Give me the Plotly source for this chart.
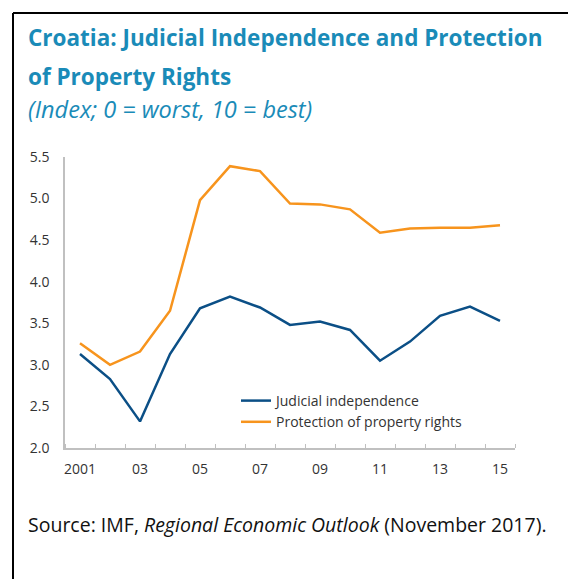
import plotly.graph_objects as go

years = list(range(2001, 2016))
judicial = [3.13, 2.83, 2.32, 3.13, 3.68, 3.82, 3.69, 3.48, 3.52, 3.42, 3.05, 3.28, 3.59, 3.70, 3.53]
property_rights = [3.26, 3.00, 3.16, 3.65, 4.98, 5.39, 5.33, 4.94, 4.93, 4.87, 4.59, 4.64, 4.65, 4.65, 4.68]
tick_years = [2001, 2003, 2005, 2007, 2009, 2011, 2013, 2015]
tick_labels = ["2001", "03", "05", "07", "09", "11", "13", "15"]
y_ticks = [2.0, 2.5, 3.0, 3.5, 4.0, 4.5, 5.0, 5.5]

BLUE = "#0b4f86"
ORANGE = "#f7941d"
TITLE = "#1a8bb8"
FONT = "Open Sans"

# page has an 8px body margin; work in page coordinates and shift
OFF = 8
PW, PH = 576, 579
W, H = PW - OFF, PH - OFF
# plot area in page coords: x 65..515, y 157..448
L, R = 65 - OFF, PW - 515
T, B = 157 - OFF, PH - 448
pw, ph = W - L - R, H - T - B

def px(x):
    return (x - OFF - L) / pw

def py(y):
    return (H - B - (y - OFF)) / ph

fig = go.Figure()
fig.add_trace(go.Scatter(x=years, y=judicial, mode="lines", name="Judicial independence",
                         line=dict(color=BLUE, width=2.5)))
fig.add_trace(go.Scatter(x=years, y=property_rights, mode="lines", name="Protection of property rights",
                         line=dict(color=ORANGE, width=2.5)))

fig.update_layout(
    width=W, height=H,
    margin=dict(l=L, r=R, t=T, b=B),
    paper_bgcolor="white", plot_bgcolor="white",
    font=dict(family=FONT, size=14, color="#333333"),
    showlegend=True,
    legend=dict(x=px(236), y=py(385), xanchor="left", yanchor="top",
                bgcolor="rgba(0,0,0,0)", font=dict(size=14, color="#333333"),
                tracegroupgap=0, itemwidth=30),
    xaxis=dict(range=[2000.5, 2015.5], tickvals=tick_years, ticktext=tick_labels,
               ticks="", showgrid=False, zeroline=False,
               showline=True, linecolor="#c0c0c0", linewidth=1.5,
               tickfont=dict(size=14, color="#333333"), ticklabelstandoff=7,
               minor=dict(tickvals=[y + 0.5 for y in range(2000, 2016)], ticks="inside",
                          ticklen=4, tickcolor="#c0c0c0", tickwidth=1, showgrid=False)),
    yaxis=dict(range=[2.0, 5.5], tickvals=y_ticks, ticktext=[f"{v:.1f}" for v in y_ticks],
               ticks="", showgrid=False, zeroline=False,
               showline=True, linecolor="#c0c0c0", linewidth=1.5,
               tickfont=dict(size=14, color="#333333"), ticklabelstandoff=11),
)

# frame lines (top and left)
fig.add_shape(type="line", xref="paper", yref="paper", x0=px(13), x1=px(PW + 5), y0=py(13), y1=py(13),
              line=dict(color="black", width=2))
fig.add_shape(type="line", xref="paper", yref="paper", x0=px(13), x1=px(13), y0=py(13), y1=py(PH + 5),
              line=dict(color="black", width=2))

fig.add_annotation(xref="paper", yref="paper", x=px(26), y=py(38), xanchor="left", yanchor="middle",
                   text="<b>Croatia: Judicial Independence and Protection</b>", showarrow=False,
                   font=dict(family=FONT, size=22.5, color=TITLE))
fig.add_annotation(xref="paper", yref="paper", x=px(26), y=py(76), xanchor="left", yanchor="middle",
                   text="<b>of Property Rights</b>", showarrow=False,
                   font=dict(family=FONT, size=22.5, color=TITLE))
fig.add_annotation(xref="paper", yref="paper", x=px(26), y=py(109), xanchor="left", yanchor="middle",
                   text="<i>(Index; 0 = worst, 10 = best)</i>", showarrow=False,
                   font=dict(family=FONT, size=23.5, color=TITLE))
fig.add_annotation(xref="paper", yref="paper", x=px(26), y=py(524), xanchor="left", yanchor="middle",
                   text="Source: IMF, <i>Regional Economic Outlook</i> (November 2017).", showarrow=False,
                   font=dict(family=FONT, size=19.5, color="#111111"))

fig.write_html("out.html")
